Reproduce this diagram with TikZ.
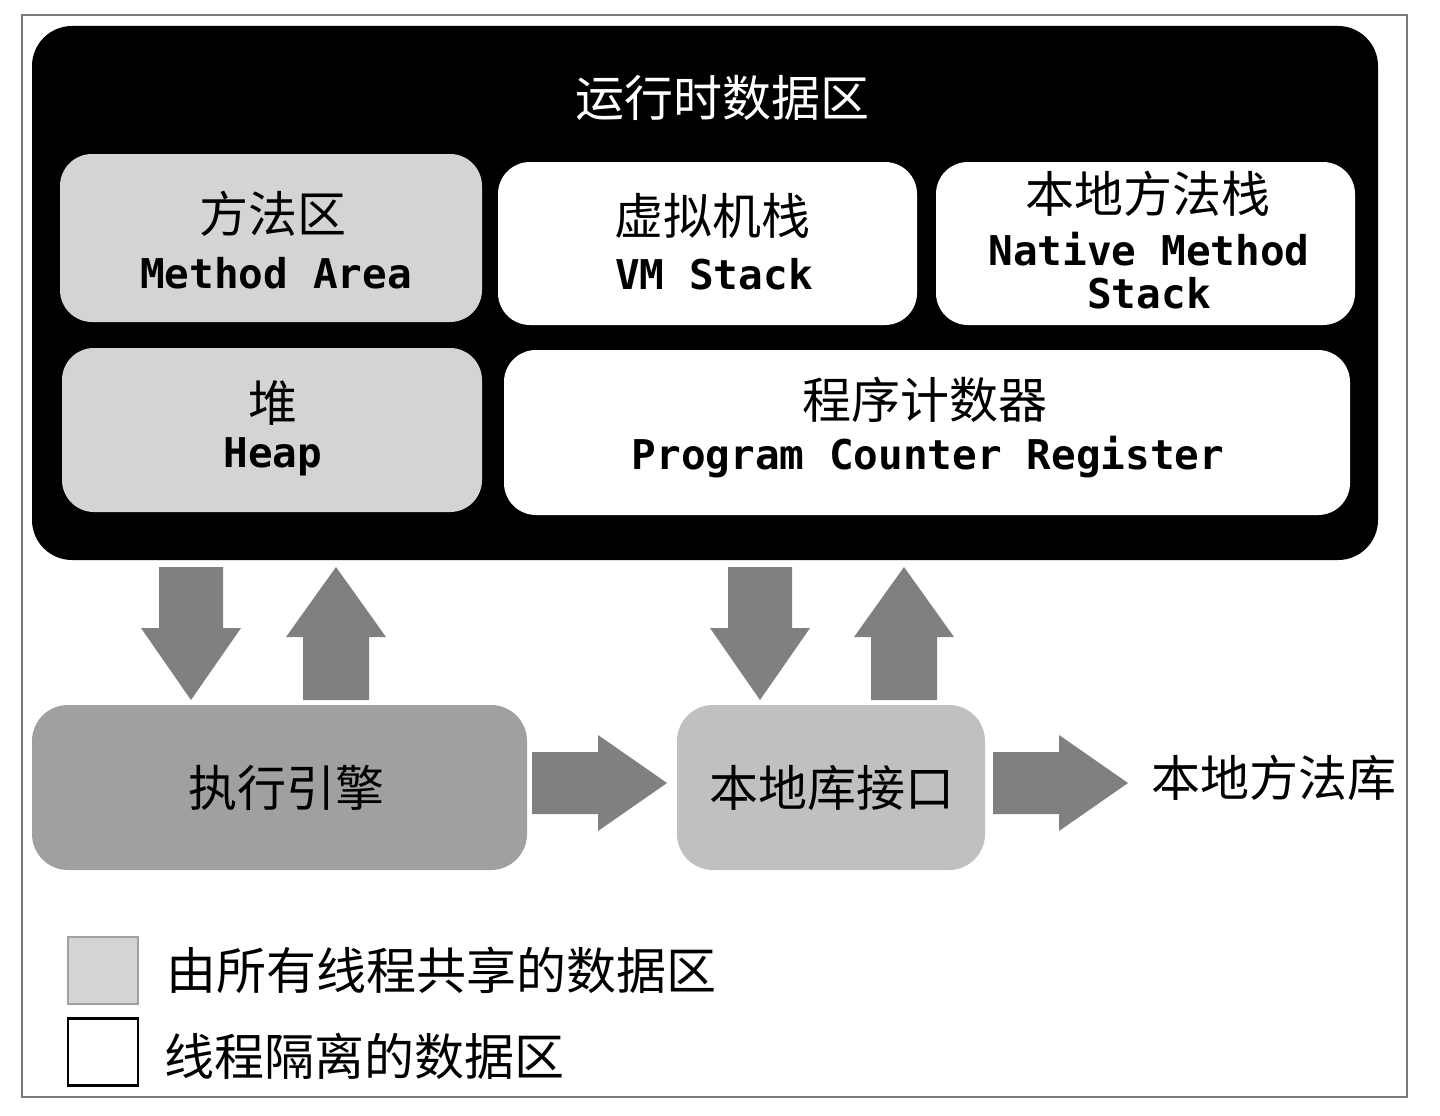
\documentclass[tikz,border=0pt]{standalone}
\usepackage{fontspec}
\newfontfamily\cjk{Noto Sans CJK SC}
\newfontfamily\monof{DejaVu Sans Mono}[BoldFont={DejaVu Sans Mono Bold}]
\definecolor{sharedgrey}{HTML}{D4D4D4}
\definecolor{enginegrey}{HTML}{A0A0A0}
\definecolor{ifacegrey}{HTML}{C0C0C0}
\definecolor{arrowgrey}{HTML}{808080}
\definecolor{framegrey}{HTML}{7A7A7A}
\tikzset{
  region/.style={rounded corners=32pt, inner sep=0pt},
  shared/.style={region, fill=sharedgrey},
  private/.style={region, fill=white},
  cjklabel/.style={inner sep=0pt, font=\cjk\fontsize{49}{56}\selectfont},
  monolabel/.style={inner sep=0pt, font=\monof\bfseries\fontsize{41}{46}\selectfont},
  legendtext/.style={inner sep=0pt, anchor=west, font=\cjk\fontsize{50}{58}\selectfont},
  downblock/.pic={\fill[arrowgrey] (-32,-133) -- (32,-133) -- (32,-72) -- (50,-72) -- (0,0) -- (-50,-72) -- (-32,-72) -- cycle;},
  upblock/.pic={\fill[arrowgrey] (-33,133) -- (33,133) -- (33,70) -- (50,70) -- (0,0) -- (-50,70) -- (-33,70) -- cycle;},
  rightblock/.pic={\fill[arrowgrey] (-135,-31) -- (-69,-31) -- (-69,-48) -- (0,0) -- (-69,48) -- (-69,31) -- (-135,31) -- cycle;}
}
\begin{document}
\begin{tikzpicture}[x=1pt,y=-1pt]
\useasboundingbox (0,0) rectangle (1440,1116);
\fill[white] (0,0) rectangle (1440,1116);
% outer frame
\draw[framegrey, line width=2.5pt] (22,15) rectangle (1407,1097);
% runtime data area
\node[fill=black, rounded corners=40pt, minimum width=1346pt, minimum height=534pt, inner sep=0pt] (rda) at (705,293) {};
\node[cjklabel, text=white] (rdatitle) at (722,98) {运行时数据区};
% regions
\node[shared, minimum width=422pt, minimum height=168pt] (method) at (271,238) {};
\node[cjklabel] (methodcn) at (273,214) {方法区};
\node[monolabel] (methoden) at (276,273) {Method Area};

\node[private, minimum width=419pt, minimum height=163pt] (vmstack) at (707.5,243.5) {};
\node[cjklabel] (vmstackcn) at (712,216) {虚拟机栈};
\node[monolabel] (vmstacken) at (714,274) {VM Stack};

\node[private, minimum width=419pt, minimum height=163pt] (nstack) at (1145.5,243.5) {};
\node[cjklabel] (nstackcn) at (1148,194) {本地方法栈};
\node[monolabel] (nstacken1) at (1149,249) {Native Method};
\node[monolabel] (nstacken2) at (1149,293) {Stack};

\node[shared, minimum width=420pt, minimum height=164pt] (heap) at (272,430) {};
\node[cjklabel] (heapcn) at (273,403) {堆};
\node[monolabel] (heapen) at (273,457) {Heap};

\node[private, minimum width=846pt, minimum height=165pt] (pc) at (927,432.5) {};
\node[cjklabel] (pccn) at (925,400) {程序计数器};
\node[monolabel] (pcen) at (928,457) {Program Counter Register};

% execution engine and native interface
\node[fill=enginegrey, rounded corners=36pt, minimum width=495pt, minimum height=165pt, inner sep=0pt] (engine) at (279.5,787.5) {};
\node[cjklabel] (enginecn) at (286,788) {执行引擎};
\node[fill=ifacegrey, rounded corners=36pt, minimum width=308pt, minimum height=165pt, inner sep=0pt] (iface) at (831,787.5) {};
\node[cjklabel] (ifacecn) at (832,788) {本地库接口};
\node[cjklabel, anchor=west] (nlib) at (1151,778) {本地方法库};

% block arrows
\pic at (191,700) {downblock};
\pic at (336,567) {upblock};
\pic at (760,700) {downblock};
\pic at (904,567) {upblock};
\pic at (667,783) {rightblock};
\pic at (1128,783) {rightblock};

% legend
\node[fill=sharedgrey, draw=enginegrey, line width=2pt, minimum width=70pt, minimum height=67pt, inner sep=0pt] (legshared) at (103,970) {};
\node[legendtext] (legsharedtxt) at (166,970) {由所有线程共享的数据区};
\node[fill=white, draw=black, line width=2.5pt, minimum width=70pt, minimum height=67pt, inner sep=0pt] (legprivate) at (103,1052) {};
\node[legendtext] (legprivatetxt) at (164,1056) {线程隔离的数据区};
\end{tikzpicture}
\end{document}
